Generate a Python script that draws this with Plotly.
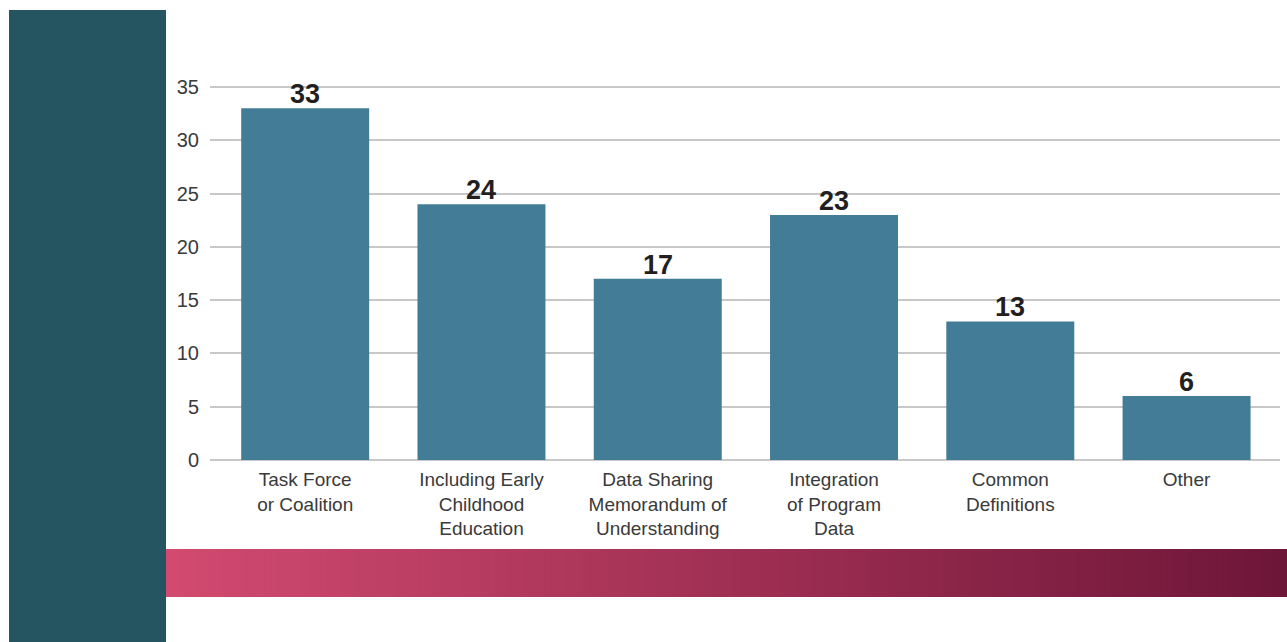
import plotly.graph_objects as go

categories = [
    "Task Force<br>or Coalition",
    "Including Early<br>Childhood<br>Education",
    "Data Sharing<br>Memorandum of<br>Understanding",
    "Integration<br>of Program<br>Data",
    "Common<br>Definitions",
    "Other",
]
values = [33, 24, 17, 23, 13, 6]
y_ticks = [0, 5, 10, 15, 20, 25, 30, 35]

W, H = 1287, 642
BAR_COLOR = "#437C96"
PANEL_COLOR = "#255561"
FONT = "Liberation Sans, Arial, Helvetica, sans-serif"

Y_MAX = 35.3
PX_PER_UNIT = (460 - 87) / 35.0
Y_TOP_PX = 460 - Y_MAX * PX_PER_UNIT

def px_x(p):
    return p / W

def px_y(p):
    return 1 - p / H

fig = go.Figure()
fig.add_trace(go.Bar(
    x=list(range(len(categories))),
    y=values,
    width=0.726,
    marker=dict(color=BAR_COLOR, line=dict(width=0)),
    hoverinfo="skip",
))

for i, v in enumerate(values):
    fig.add_annotation(
        x=i, y=v, text=f"<b>{v}</b>", showarrow=False,
        yanchor="bottom", yshift=-3,
        font=dict(family=FONT, size=27, color="#231F20"),
    )

shapes = []
# left dark panel
shapes.append(dict(type="rect", xref="paper", yref="paper",
                   x0=px_x(9), x1=px_x(166), y0=px_y(642), y1=px_y(10),
                   fillcolor=PANEL_COLOR, line=dict(width=0), layer="below"))
# gradient band
c0 = (210, 74, 112)
c1 = (110, 22, 56)
n = 160
x_start, x_end = 166, 1287
for k in range(n):
    t = k / (n - 1)
    c = tuple(round(c0[j] + (c1[j] - c0[j]) * t) for j in range(3))
    xa = x_start + (x_end - x_start) * k / n
    xb = x_start + (x_end - x_start) * (k + 1) / n + 3
    shapes.append(dict(type="rect", xref="paper", yref="paper",
                       x0=px_x(xa), x1=px_x(min(xb, W)), y0=px_y(597), y1=px_y(549),
                       fillcolor="rgb(%d,%d,%d)" % c, line=dict(width=0), layer="above"))

fig.update_layout(
    width=W, height=H,
    margin=dict(l=0, r=0, t=0, b=0, pad=0),
    paper_bgcolor="white", plot_bgcolor="white",
    showlegend=False,
    shapes=shapes,
    bargap=0.27,
    font=dict(family=FONT, size=20, color="#3A3A3A"),
    xaxis=dict(
        domain=[210 / W, 1280 / W],
        range=[-0.54, 5.53],
        automargin=False,
        tickmode="array", tickvals=list(range(len(categories))), ticktext=categories,
        showgrid=False, zeroline=False, showline=False, ticks="",
        tickfont=dict(family=FONT, size=19, color="#3A3A3A"),
        ticklabelstandoff=6,
    ),
    yaxis=dict(
        domain=[(H - 460) / H, (H - Y_TOP_PX) / H],
        range=[0, Y_MAX],
        automargin=False,
        tickmode="array", tickvals=y_ticks,
        showgrid=True, gridcolor="#C8C8C8", gridwidth=1.5,
        zeroline=True, zerolinecolor="#C8C8C8", zerolinewidth=1.5,
        showline=False, ticks="",
        tickfont=dict(family=FONT, size=20, color="#3A3A3A"),
        ticklabelstandoff=10,
    ),
)

fig.write_html(
    "out.html",
    config={"displayModeBar": False},
    post_script=(
        "document.documentElement.style.margin='0';"
        "document.documentElement.style.overflow='hidden';"
        "document.body.style.margin='0';"
        "document.body.style.overflow='hidden';"
    ),
)
